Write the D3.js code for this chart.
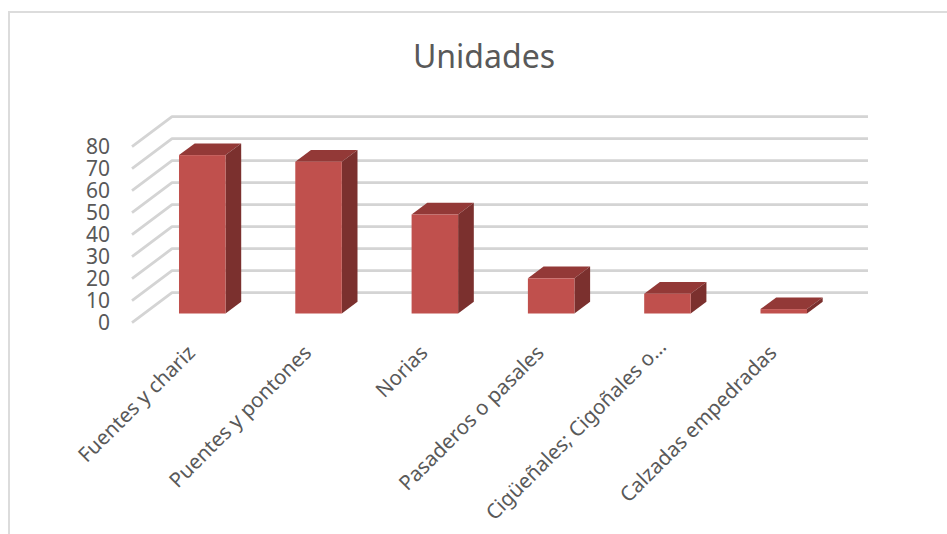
<!DOCTYPE html>
<html><head><meta charset="utf-8">
<script src="https://cdn.jsdelivr.net/npm/d3@7"></script>
<style>html,body{margin:0;padding:0;background:#fff}svg{display:block}text{font-family:"Noto Sans","Open Sans",sans-serif}</style>
</head><body><svg id="c" width="947" height="534"></svg>
<script>
const categories=["Fuentes y chariz","Puentes y pontones","Norias","Pasaderos o pasales","Cigüeñales; Cigoñales o…","Calzadas empedradas"];
const values=[72,69,45,16,9,2];
const yTicks=[0,10,20,30,40,50,60,70,80];
const titleText="Unidades";

const svg=d3.select("#c");
const x=d3.scaleBand().domain(categories).range([144.1,841.9]).paddingInner(0.6).paddingOuter(0.3);
const y=d3.scaleLinear().domain([0,80]).range([313.5,137.5]);
const wall={dx:40,dy:-30}, bar={dx:15.7,dy:-11.7};

svg.append("path").attr("d","M9,534V12H947").attr("fill","none").attr("stroke","#dcdcdc").attr("stroke-width",2);
svg.append("text").attr("x",484).attr("y",68).attr("text-anchor","middle").attr("font-size",32).attr("fill","#595959").text(titleText);

const g=svg.append("g").selectAll("g").data(yTicks).join("g");
g.append("path").attr("d",d=>`M132,${y(d)+9.2}L${132+wall.dx},${y(d)+9.2+wall.dy}H868`)
 .attr("fill","none").attr("stroke","#d4d4d4").attr("stroke-width",2.8).attr("stroke-linejoin","round");
g.append("text").attr("x",110).attr("y",d=>y(d)+9.2).attr("dy","0.36em").attr("text-anchor","end").attr("font-size",21).attr("fill","#595959").text(d=>d);

const b=svg.append("g").selectAll("g").data(categories).join("g");
const L=d=>x(d), R=d=>x(d)+x.bandwidth(), T=(d,i)=>y(values[i]), B=y(0);
b.append("path").attr("fill","#933937").attr("d",(d,i)=>`M${L(d)},${T(d,i)}l${bar.dx},${bar.dy}H${R(d)+bar.dx}L${R(d)},${T(d,i)}Z`);
b.append("path").attr("fill","#7b302e").attr("d",(d,i)=>`M${R(d)},${T(d,i)}l${bar.dx},${bar.dy}V${B+bar.dy}L${R(d)},${B}Z`);
b.append("rect").attr("fill","#c0504d").attr("x",L).attr("width",x.bandwidth()).attr("y",T).attr("height",(d,i)=>B-T(d,i));

svg.append("g").selectAll("text").data(categories).join("text")
 .attr("text-anchor","end").attr("font-size",20.5).attr("fill","#595959")
 .attr("transform",(d,i)=>{const n=i===4?6:0;return `translate(${x(d)+x.bandwidth()/2-11+n},${349-n}) rotate(-45)`;})
 .attr("dy","0.35em").text(d=>d);
</script></body></html>
